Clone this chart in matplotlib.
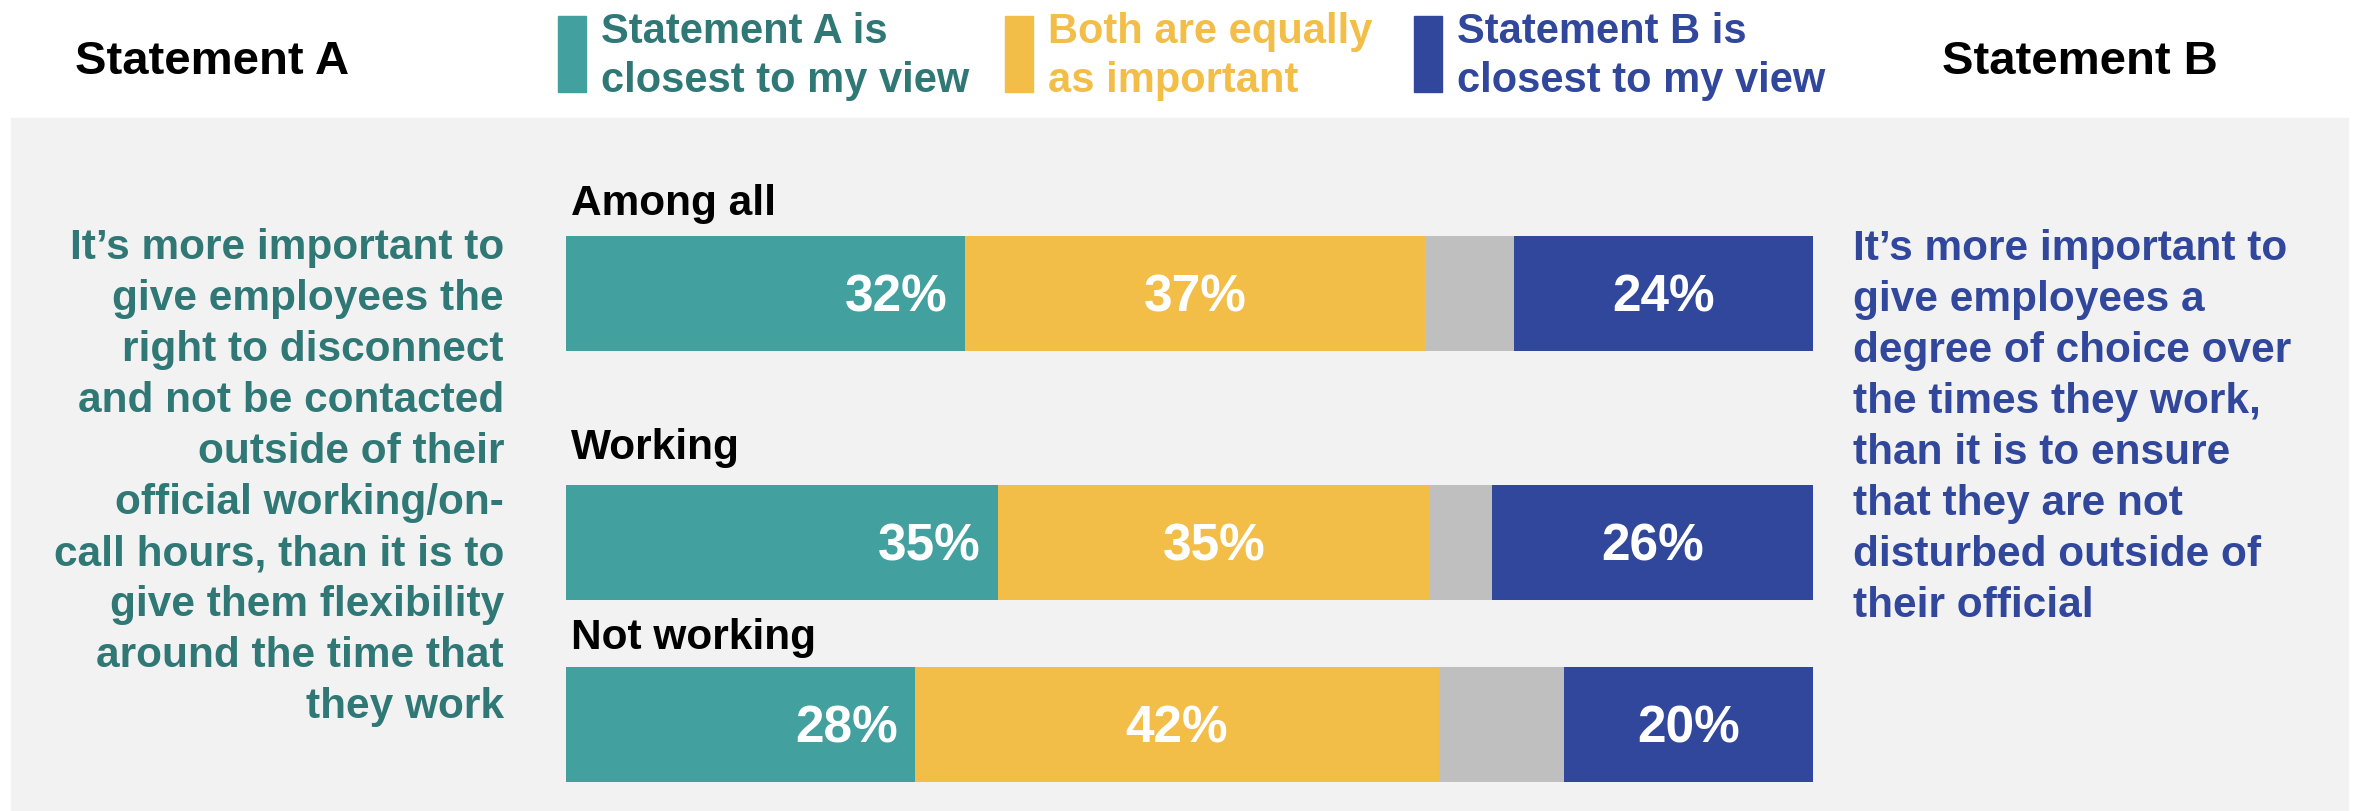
import matplotlib
matplotlib.use("Agg")
import matplotlib.pyplot as plt
from matplotlib.patches import Rectangle

plt.rcParams['font.family'] = ['Liberation Sans', 'DejaVu Sans']
plt.rcParams['font.weight'] = 'bold'

# data
groups = ["Among all", "Working", "Not working"]
closest_a = [32, 35, 28]
both_equal = [37, 35, 42]
dont_know = [7, 5, 10]
closest_b = [24, 26, 20]

legend_labels = ["Statement A is\nclosest to my view",
                 "Both are equally\nas important",
                 "Statement B is\nclosest to my view"]

statement_a = ["It\u2019s more important to", "give employees the", "right to disconnect",
               "and not be contacted", "outside of their", "official working/on-",
               "call hours, than it is to", "give them flexibility",
               "around the time that", "they work"]
statement_b = ["It\u2019s more important to", "give employees a", "degree of choice over",
               "the times they work,", "than it is to ensure", "that they are not",
               "disturbed outside of", "their official"]

# colours
TEAL = "#42A09F"
TEAL_TXT = "#2F7876"
YELLOW = "#F2BE48"
GREY = "#BFBFBF"
BLUE = "#31479C"
PANEL = "#F2F2F2"

W, H = 2359, 811
fig = plt.figure(figsize=(W / 100, H / 100), dpi=100)
fig.patch.set_facecolor("white")


def px(x, y):
    # pixel position (from top-left) -> figure fraction
    return x / W, 1 - y / H


# grey panel behind everything
x0, y0 = px(11, 811)
fig.patches.append(Rectangle((x0, y0), (2348 - 11) / W, (811 - 118) / H,
                             transform=fig.transFigure, color=PANEL, zorder=-5))

# headers
fig.text(*px(75, 74), "Statement A", fontsize=34, color="black", va="baseline")
fig.text(*px(1942, 74), "Statement B", fontsize=34, color="black", va="baseline")

# legend
leg_colors = [TEAL, YELLOW, BLUE]
leg_txt_colors = [TEAL_TXT, YELLOW, BLUE]
leg_x = [558, 1005, 1414]
for lab, c, tc, lx in zip(legend_labels, leg_colors, leg_txt_colors, leg_x):
    rx, ry = px(lx, 92)
    fig.patches.append(Rectangle((rx, ry), 28 / W, 76 / H, transform=fig.transFigure,
                                 color=c, zorder=1))
    for i, line in enumerate(lab.split("\n")):
        fig.text(*px(lx + 43, 43 + 49 * i), line, fontsize=30, color=tc, va="baseline")

# statement texts
for i, line in enumerate(statement_a):
    fig.text(*px(504, 259 + 51 * i), line, fontsize=30.5, color=TEAL_TXT,
             ha="right", va="baseline")
for i, line in enumerate(statement_b):
    fig.text(*px(1853, 260 + 51 * i), line, fontsize=30.5, color=BLUE,
             ha="left", va="baseline")

# bars
ax = fig.add_axes([566 / W, 0, (1813 - 566) / W, 1])
ax.set_zorder(2)
ax.set_xlim(0, 100)
ax.set_ylim(H, 0)
ax.axis("off")

bar_y = [293.5, 542, 724]
bar_h = 115
label_y = [215, 459, 649]

for k in range(len(groups)):
    vals = [closest_a[k], both_equal[k], dont_know[k], closest_b[k]]
    total = sum(vals)
    widths = [v * 100 / total for v in vals]
    left = 0
    lefts = []
    for wdt, c in zip(widths, [TEAL, YELLOW, GREY, BLUE]):
        ax.barh(bar_y[k], wdt, left=left, height=bar_h, color=c, edgecolor="none")
        lefts.append(left)
        left += wdt
    ty = bar_y[k] + 18.5
    ax.text(lefts[0] + widths[0] - 1.4, ty, f"{closest_a[k]}%", color="white",
            fontsize=37, ha="right", va="baseline")
    ax.text(lefts[1] + widths[1] / 2, ty, f"{both_equal[k]}%", color="white",
            fontsize=37, ha="center", va="baseline")
    ax.text(lefts[3] + widths[3] / 2, ty, f"{closest_b[k]}%", color="white",
            fontsize=37, ha="center", va="baseline")
    ax.text(0.4, label_y[k], groups[k], color="black", fontsize=30.5,
            ha="left", va="baseline")

fig.savefig("out.png", dpi=100)
